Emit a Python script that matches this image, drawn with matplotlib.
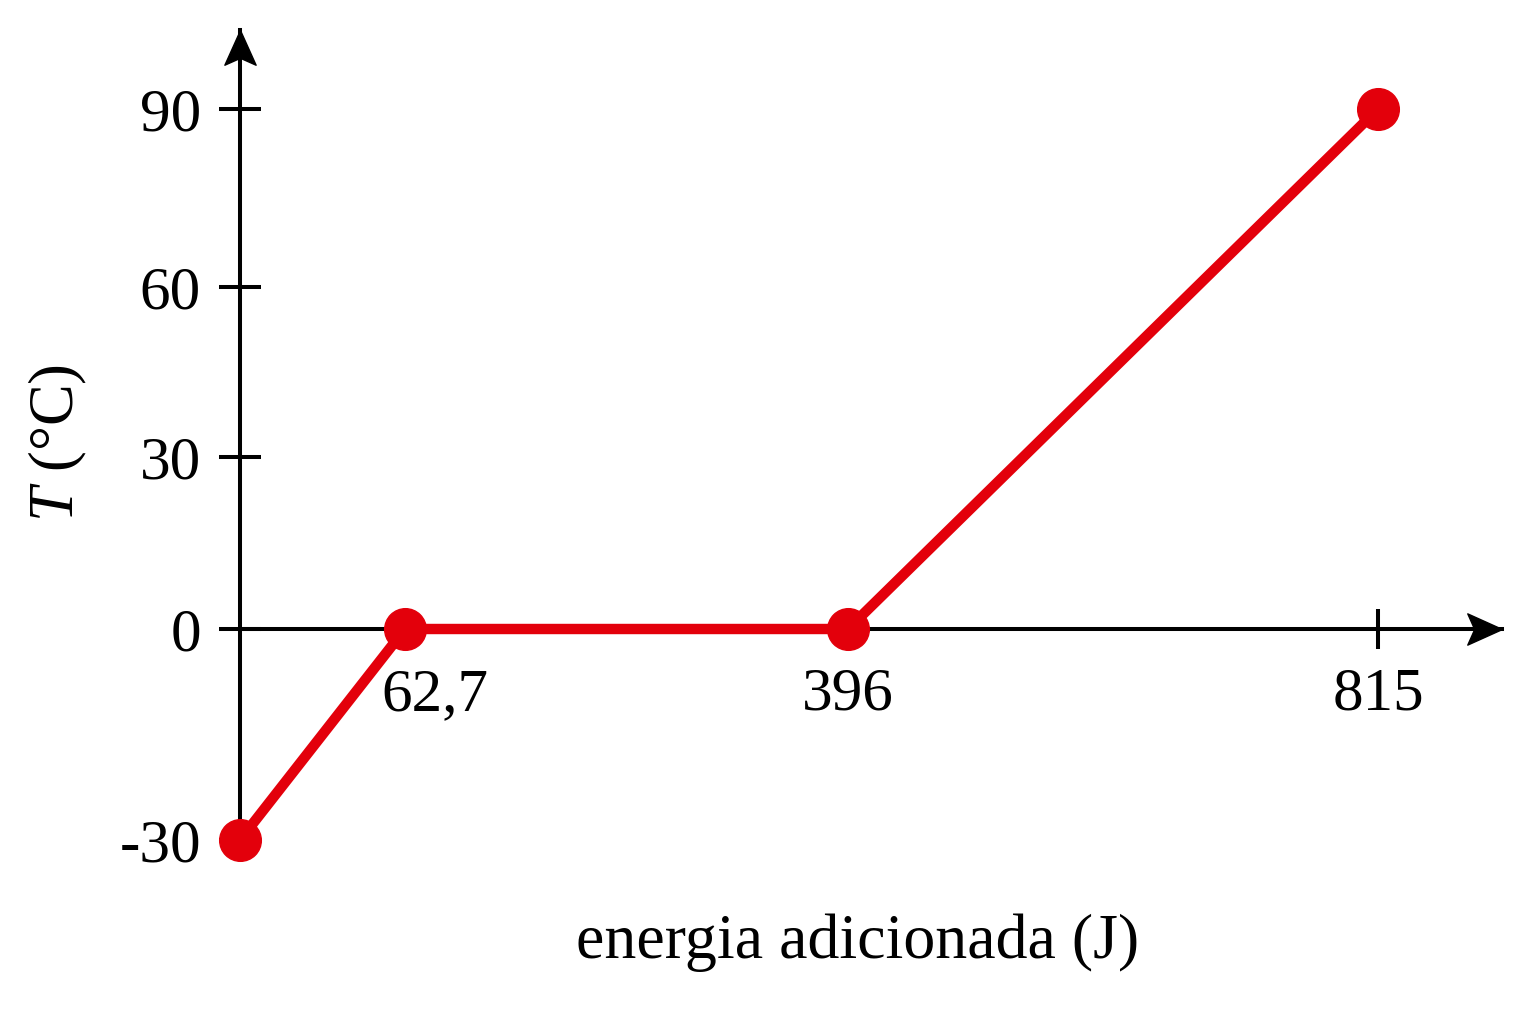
import numpy as np
import matplotlib
matplotlib.use("Agg")
import matplotlib.pyplot as plt
from matplotlib.path import Path
from matplotlib.transforms import ScaledTranslation

# ---- data ----
energia = [0, 62.7, 396, 815]          # J
temperatura = [-30, 0, 0, 90]          # °C
x_ticks = [62.7, 396, 815]
x_tick_labels = ["62,7", "396", "815"]
y_ticks = [-30, 0, 30, 60, 90]
y_tick_labels = ["-30", "0", "30", "60", "90"]
x_label = "energia adicionada (J)"
y_label = r"$T$ (°C)"

# ---- style ----
plt.rcParams["font.family"] = ["Liberation Serif", "DejaVu Serif"]
plt.rcParams["mathtext.fontset"] = "custom"
plt.rcParams["mathtext.rm"] = "Liberation Serif"
plt.rcParams["mathtext.it"] = "Liberation Serif:italic"

RED = "#e3000b"
W, H, DPI = 1536, 1024, 100

# schematic (not to scale) axes: piecewise-linear scales
def piecewise(vals, pos):
    vals = np.asarray(vals, float)
    pos = np.asarray(pos, float)
    s_lo = (pos[1] - pos[0]) / (vals[1] - vals[0])
    s_hi = (pos[-1] - pos[-2]) / (vals[-1] - vals[-2])

    def fwd(v):
        v = np.asarray(v, float)
        out = np.interp(v, vals, pos)
        out = np.where(v < vals[0], pos[0] + (v - vals[0]) * s_lo, out)
        out = np.where(v > vals[-1], pos[-1] + (v - vals[-1]) * s_hi, out)
        return out

    def inv(p):
        p = np.asarray(p, float)
        out = np.interp(p, pos, vals)
        out = np.where(p < pos[0], vals[0] + (p - pos[0]) / s_lo, out)
        out = np.where(p > pos[-1], vals[-1] + (p - pos[-1]) / s_hi, out)
        return out

    return fwd, inv

# pixel layout of the schematic grid
x_fwd, x_inv = piecewise([0, 62.7, 396, 815], [240, 405, 848, 1378])
y_fwd, y_inv = piecewise([-30, 0, 30, 60, 90], [H - 840, H - 629, H - 457, H - 287, H - 109])

left_px, right_px = 240, 1502
bottom_px, top_px = 840, 30

fig = plt.figure(figsize=(W / DPI, H / DPI), dpi=DPI)
fig.patch.set_facecolor("white")
ax = fig.add_axes([left_px / W, (H - bottom_px) / H,
                   (right_px - left_px) / W, (bottom_px - top_px) / H])
ax.set_facecolor("none")
ax.set_xscale("function", functions=(x_fwd, x_inv))
ax.set_yscale("function", functions=(y_fwd, y_inv))
ax.set_xlim(0, float(x_inv(right_px)))
ax.set_ylim(-30, float(y_inv(H - top_px)))

for s in ("top", "right"):
    ax.spines[s].set_visible(False)
ax.spines["bottom"].set_position(("data", 0))
ax.spines["left"].set_linewidth(2.9)
ax.spines["bottom"].set_linewidth(2.9)

# ticks
ax.set_yticks(y_ticks)
ax.set_yticklabels(y_tick_labels)
ax.set_xticks(x_ticks)
ax.set_xticklabels(x_tick_labels)
ax.minorticks_off()
ax.tick_params(axis="y", direction="inout", length=30, width=2.9, pad=13,
               labelsize=44)
ax.tick_params(axis="x", direction="inout", length=29, width=2.9, pad=13,
               labelsize=44)
xt = ax.xaxis.get_major_ticks()
for t in xt[:2]:
    t.tick1line.set_visible(False)
xt[0].label1.set_transform(xt[0].label1.get_transform() +
                           ScaledTranslation(30 / DPI, 0, fig.dpi_scale_trans))

# arrow heads on axes
arrow_r = Path([(0, 0), (-1, 0.45), (-0.8, 0), (-1, -0.45), (0, 0)],
               [Path.MOVETO, Path.LINETO, Path.LINETO, Path.LINETO, Path.CLOSEPOLY])
arrow_u = Path([(0, 0), (0.45, -1), (0, -0.8), (-0.45, -1), (0, 0)],
               [Path.MOVETO, Path.LINETO, Path.LINETO, Path.LINETO, Path.CLOSEPOLY])
ax.plot([1], [0], marker=arrow_r, markersize=50, color="black",
        transform=ax.get_yaxis_transform(), clip_on=False, zorder=5)
ax.plot([0], [1], marker=arrow_u, markersize=50, color="black",
        transform=ax.get_xaxis_transform(), clip_on=False, zorder=5)

# data line
ax.plot(energia, temperatura, color=RED, linewidth=7.5, marker="o",
        markersize=30, markerfacecolor=RED, markeredgecolor=RED,
        clip_on=False, zorder=6, solid_capstyle="round")

# axis labels
fig.text(858 / W, 1 - 943 / H, x_label, ha="center", va="center", fontsize=46)
fig.text(58 / W, 1 - 443 / H, y_label, ha="center", va="center", fontsize=45,
         rotation=90)

fig.savefig("out.png", dpi=DPI, facecolor="white")
